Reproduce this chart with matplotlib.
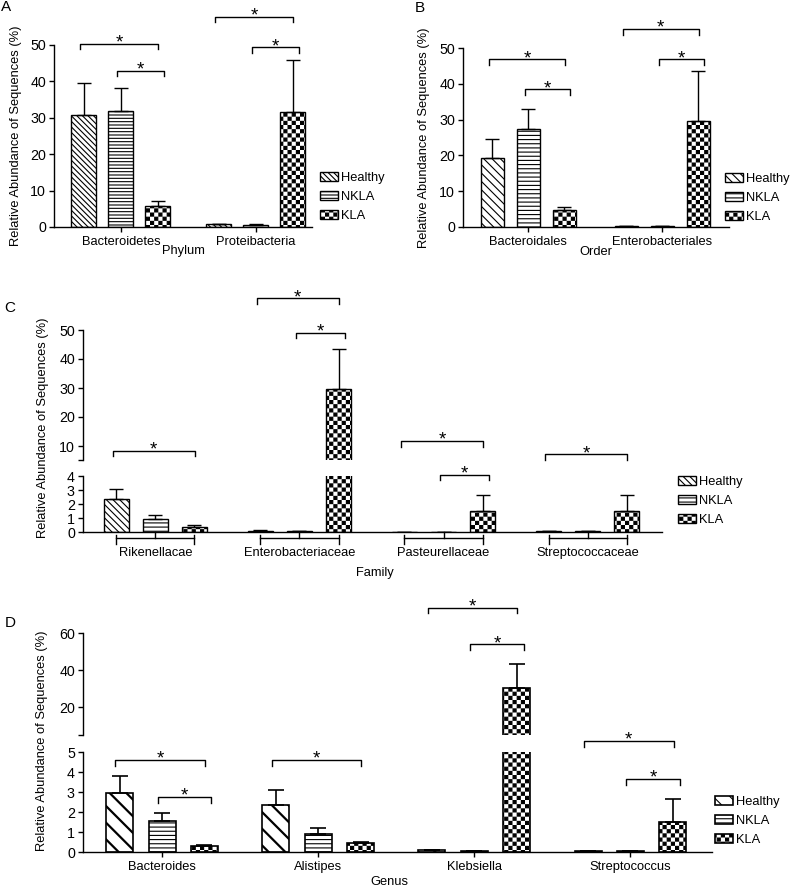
import numpy as np
import matplotlib
matplotlib.use("Agg")
import matplotlib.pyplot as plt
import matplotlib.hatch as mhatch
from matplotlib.path import Path
from matplotlib.transforms import blended_transform_factory

plt.rcParams['font.family'] = ['Liberation Sans', 'DejaVu Sans']
plt.rcParams['font.size'] = 9.3
plt.rcParams['hatch.linewidth'] = 0.8

# ------------------------------------------------------------------ data
groups = ['Healthy', 'NKLA', 'KLA']

phylum_cats = ['Bacteroidetes', 'Proteibacteria']
phylum_healthy = [30.8, 0.7]
phylum_nkla = [31.8, 0.6]
phylum_kla = [5.8, 31.7]
phylum_healthy_sd = [8.7, 0.2]
phylum_nkla_sd = [6.4, 0.1]
phylum_kla_sd = [1.4, 14.2]

order_cats = ['Bacteroidales', 'Enterobacteriales']
order_healthy = [19.3, 0.2]
order_nkla = [27.5, 0.2]
order_kla = [4.7, 29.7]
order_healthy_sd = [5.3, 0.05]
order_nkla_sd = [5.5, 0.05]
order_kla_sd = [0.8, 13.8]

family_cats = ['Rikenellacae', 'Enterobacteriaceae', 'Pasteurellaceae', 'Streptococcaceae']
family_healthy = [2.35, 0.08, 0.0, 0.05]
family_nkla = [0.95, 0.05, 0.0, 0.05]
family_kla = [0.38, 29.8, 1.5, 1.52]
family_healthy_sd = [0.72, 0.04, 0.0, 0.02]
family_nkla_sd = [0.3, 0.03, 0.0, 0.02]
family_kla_sd = [0.12, 13.6, 1.12, 1.1]

genus_cats = ['Bacteroides', 'Alistipes', 'Klebsiella', 'Streptococcus']
genus_healthy = [2.97, 2.35, 0.08, 0.05]
genus_nkla = [1.55, 0.92, 0.05, 0.05]
genus_kla = [0.28, 0.45, 30.1, 1.52]
genus_healthy_sd = [0.83, 0.73, 0.03, 0.02]
genus_nkla_sd = [0.42, 0.28, 0.02, 0.02]
genus_kla_sd = [0.07, 0.07, 13.3, 1.13]

# significance brackets: (category index, bar i, bar j, height, 'u' upper / 'l' lower axis)
phylum_sig = [(0, 0, 2, 50.3, 'l'), (0, 1, 2, 42.9, 'l'), (1, 0, 2, 57.7, 'l'), (1, 1, 2, 49.4, 'l')]
order_sig = [(0, 0, 2, 46.9, 'l'), (0, 1, 2, 38.5, 'l'), (1, 0, 2, 55.3, 'l'), (1, 1, 2, 46.9, 'l')]
family_sig = [(0, 0, 2, 8.3, 'u'), (1, 0, 2, 61.0, 'u'), (1, 1, 2, 49.0, 'u'),
              (2, 0, 2, 11.7, 'u'), (2, 1, 2, 4.1, 'l'), (3, 0, 2, 7.2, 'u')]
genus_sig = [(0, 0, 2, 4.6, 'l'), (0, 1, 2, 2.75, 'l'), (1, 0, 2, 4.6, 'l'),
             (2, 0, 2, 73.5, 'u'), (2, 1, 2, 54.0, 'u'), (3, 0, 2, 5.55, 'l'), (3, 1, 2, 3.65, 'l')]

ylabel = 'Relative Abundance of Sequences (%)'


# ------------------------------------------------------------------ checkerboard hatch ('O')
class _Checker(mhatch.HatchPatternBase):
    def __init__(self, hatch, density):
        k = hatch.count('O')
        self.n = int(2 * density * k)
        self.num_vertices = (self.n * self.n // 2) * 5 if k else 0

    def set_vertices_and_codes(self, vertices, codes):
        n = self.n
        s = 1.0 / n
        sh = plt.rcParams['hatch.linewidth'] / 72.0 / 2
        base = np.array([[sh, sh], [s - sh, sh], [s - sh, s - sh], [sh, s - sh], [sh, sh]])
        bc = [Path.MOVETO, Path.LINETO, Path.LINETO, Path.LINETO, Path.CLOSEPOLY]
        idx = 0
        for r in range(n):
            for c in range(n):
                if (r + c) % 2 == 0:
                    vertices[idx:idx + 5] = base + [c * s, r * s]
                    codes[idx:idx + 5] = bc
                    idx += 5


mhatch._hatch_types[:] = [(_Checker if t is mhatch.LargeCircles else t) for t in mhatch._hatch_types]

W, H = 792, 888
fig = plt.figure(figsize=(W / 100, H / 100), dpi=100)


def rect(l, r, t, b):
    return [l / W, 1 - b / H, (r - l) / W, (b - t) / H]


def style_axes(ax, bottom=True):
    for s in ['top', 'right']:
        ax.spines[s].set_visible(False)
    if not bottom:
        ax.spines['bottom'].set_visible(False)
    for s in ['left', 'bottom']:
        ax.spines[s].set_linewidth(1.0)
    ax.tick_params(axis='y', direction='out', length=3.8, width=1.0, pad=2, labelsize=10.3)
    ax.tick_params(axis='x', direction='out', length=3.8, width=1.0, pad=2.5, labelsize=9.3)
    ax.set_facecolor('none')


def draw_bars(ax, centers, vals, sds, spacing, width, hatches, cap, elw=1.0, hlw=None):
    conts = []
    for k in range(3):
        x = centers + (k - 1) * spacing
        bars = ax.bar(x, vals[k], width, color='white', edgecolor='black', linewidth=elw,
                      hatch=hatches[k], label=groups[k], zorder=2)
        if hlw is not None and hlw[k] is not None:
            for b in bars:
                if hasattr(b, 'set_hatch_linewidth'):
                    b.set_hatch_linewidth(hlw[k])
        ax.errorbar(x, vals[k], yerr=[np.zeros(len(vals[k])), sds[k]], fmt='none',
                    ecolor='black', elinewidth=elw, capsize=cap, capthick=elw, zorder=3)
        conts.append(bars)
    return conts


def bracket(ax, centers, spacing, width, g, i, j, y, leg_px=5.5):
    inner = i > 0
    x0 = centers[g] + (i - 1) * spacing - 0.15 * width
    x1 = centers[g] + (j - 1) * spacing + (0.25 if inner else 0.02) * width
    h_px = ax.get_position().height * H
    y0, y1 = ax.get_ylim()
    leg = leg_px * (y1 - y0) / h_px
    ax.plot([x0, x0, x1, x1], [y - leg, y, y, y - leg], color='black', lw=1.0,
            clip_on=False, zorder=4)
    ax.annotate('*', xy=((x0 + x1) / 2, y), xytext=(0, -2.8), textcoords='offset points',
                ha='center', va='baseline', fontsize=13.5, annotation_clip=False)


def add_legend(handles, x_px, ymid_px):
    fig.legend(handles, groups, loc='center left', bbox_to_anchor=(x_px / W, 1 - ymid_px / H),
               frameon=False, borderpad=0, borderaxespad=0, handlelength=1.4, handleheight=0.7,
               handletextpad=0.2, labelspacing=0.55, fontsize=9.3)


# ------------------------------------------------------------------ panel A
axA = fig.add_axes(rect(54, 312, 45, 227))
cA = np.arange(len(phylum_cats))
spA, wA = 0.274, 0.185
hA = draw_bars(axA, cA, [phylum_healthy, phylum_nkla, phylum_kla],
               [phylum_healthy_sd, phylum_nkla_sd, phylum_kla_sd], spA, wA,
               ['\\' * 6, '-' * 5, 'OO'], cap=5)
axA.set_ylim(0, 50)
axA.set_xlim(-0.496, 1.415)
axA.set_yticks([0, 10, 20, 30, 40, 50])
axA.set_xticks(cA, phylum_cats)
style_axes(axA)
for g, i, j, y, _ in phylum_sig:
    bracket(axA, cA, spA, wA, g, i, j, y)
add_legend(hA, 320, 197)
fig.text(16.5 / W, 1 - 136 / H, ylabel, rotation=90, ha='center', va='center')
fig.text(183 / W, 1 - 251 / H, 'Phylum', ha='center', va='center')
fig.text(6 / W, 1 - 7 / H, 'A', ha='center', va='center', fontsize=11)

# ------------------------------------------------------------------ panel B
axB = fig.add_axes(rect(463, 729, 48, 227))
cB = np.arange(len(order_cats))
spB, wB = 0.269, 0.172
hB = draw_bars(axB, cB, [order_healthy, order_nkla, order_kla],
               [order_healthy_sd, order_nkla_sd, order_kla_sd], spB, wB,
               ['\\' * 4, '-' * 4, 'OO'], cap=5)
axB.set_ylim(0, 50)
axB.set_xlim(-0.489, 1.5)
axB.set_yticks([0, 10, 20, 30, 40, 50])
axB.set_xticks(cB, order_cats)
style_axes(axB)
for g, i, j, y, _ in order_sig:
    bracket(axB, cB, spB, wB, g, i, j, y)
add_legend(hB, 725, 198)
fig.text(424 / W, 1 - 138 / H, ylabel, rotation=90, ha='center', va='center')
fig.text(596 / W, 1 - 252 / H, 'Order', ha='center', va='center')
fig.text(420 / W, 1 - 7.5 / H, 'B', ha='center', va='center', fontsize=11)

# ------------------------------------------------------------------ panel C (broken axis)
axCu = fig.add_axes(rect(83, 662, 330, 460.5))
axCl = fig.add_axes(rect(83, 662, 476, 532))
cC = np.arange(len(family_cats))
spC, wC = 0.271, 0.174
valsC = [family_healthy, family_nkla, family_kla]
sdsC = [family_healthy_sd, family_nkla_sd, family_kla_sd]
hatC = ['\\' * 5, '-' * 4, 'OO']
for ax in (axCu, axCl):
    hC = draw_bars(ax, cC, valsC, sdsC, spC, wC, hatC, cap=4.7)
    ax.set_xlim(-0.503, 3.517)
axCu.set_ylim(5, 50)
axCl.set_ylim(0, 4)
axCu.set_yticks([5, 10, 20, 30, 40, 50], ['', '10', '20', '30', '40', '50'])
axCl.set_yticks([0, 1, 2, 3, 4])
style_axes(axCu, bottom=False)
style_axes(axCl)
axCu.tick_params(axis='x', bottom=False, labelbottom=False)
axCl.set_xticks(cC, family_cats)
axCl.tick_params(axis='x', length=0, pad=10.5)
# grouped x-axis brackets under each category
tr = blended_transform_factory(axCl.transData, axCl.transAxes)
hpx = axCl.get_position().height * H
for g in cC:
    xs = g + np.array([-1, 0, 1]) * spC
    axCl.plot([xs[0], xs[2]], [-6 / hpx, -6 / hpx], color='black', lw=1.0, transform=tr, clip_on=False)
    for xe in (xs[0], xs[2]):
        axCl.plot([xe, xe], [-3 / hpx, -12 / hpx], color='black', lw=1.0, transform=tr, clip_on=False)
    axCl.plot([xs[1], xs[1]], [0, -6 / hpx], color='black', lw=1.0, transform=tr, clip_on=False)
for g, i, j, y, which in family_sig:
    bracket(axCu if which == 'u' else axCl, cC, spC, wC, g, i, j, y)
add_legend(hC, 678, 501)
fig.text(43.5 / W, 1 - 428 / H, ylabel, rotation=90, ha='center', va='center')
fig.text(375 / W, 1 - 573 / H, 'Family', ha='center', va='center')
fig.text(10 / W, 1 - 308 / H, 'C', ha='center', va='center', fontsize=11)

# ------------------------------------------------------------------ panel D (broken axis)
axDu = fig.add_axes(rect(83, 712, 633, 735))
axDl = fig.add_axes(rect(83, 712, 752, 852))
cD = np.arange(len(genus_cats))
spD, wD = 0.272, 0.173
valsD = [genus_healthy, genus_nkla, genus_kla]
sdsD = [genus_healthy_sd, genus_nkla_sd, genus_kla_sd]
hatD = ['\\' * 2, '-' * 4, 'OO']
for ax in (axDu, axDl):
    hD = draw_bars(ax, cD, valsD, sdsD, spD, wD, hatD, cap=6, elw=1.2, hlw=[1.6, None, None])
    ax.set_xlim(-0.506, 3.522)
axDu.set_ylim(5, 60)
axDl.set_ylim(0, 5)
axDu.set_yticks([5, 20, 40, 60], ['', '20', '40', '60'])
axDl.set_yticks([0, 1, 2, 3, 4, 5])
style_axes(axDu, bottom=False)
style_axes(axDl)
axDu.tick_params(axis='x', bottom=False, labelbottom=False)
axDl.set_xticks(cD, genus_cats)
axDl.tick_params(axis='x', pad=3)
for g, i, j, y, which in genus_sig:
    bracket(axDu if which == 'u' else axDl, cD, spD, wD, g, i, j, y)
add_legend(hD, 715, 821)
fig.text(42.5 / W, 1 - 741 / H, ylabel, rotation=90, ha='center', va='center')
fig.text(389 / W, 1 - 882 / H, 'Genus', ha='center', va='center')
fig.text(10 / W, 1 - 623 / H, 'D', ha='center', va='center', fontsize=11)

fig.savefig('out.png', dpi=100, facecolor='white')
